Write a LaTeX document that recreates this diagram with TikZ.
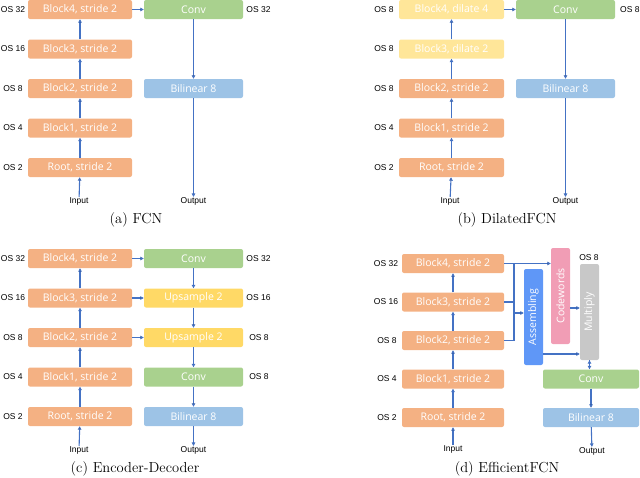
\documentclass[tikz,border=0pt]{standalone}
\usepackage{fontspec}
\newfontfamily\boxfont{Open Sans}
\newfontfamily\labfont{Liberation Sans}
\usetikzlibrary{arrows.meta, shapes, calc}

\definecolor{peach}{HTML}{F4B183}
\definecolor{paleyellow}{HTML}{FFE699}
\definecolor{upyellow}{HTML}{FFD966}
\definecolor{convgreen}{HTML}{A9D18E}
\definecolor{bilblue}{HTML}{9DC3E6}
\definecolor{asmblue}{HTML}{5F97F7}
\definecolor{cwpink}{HTML}{F19DB5}
\definecolor{mulgray}{HTML}{C8C8C8}
\definecolor{arrowblue}{HTML}{4472C4}

\tikzset{
	blk/.style={rounded corners=2pt, minimum height=19pt, inner sep=0pt, text=white,
		font=\boxfont\fontsize{10.5}{12}\selectfont},
	enc/.style={blk, fill=peach, minimum width=104pt},
	dec/.style={blk, minimum width=99pt},
	tall/.style={blk, rotate=90, minimum width=96pt},
	oslab/.style={font=\labfont\fontsize{8.5}{10}\selectfont, inner sep=0pt},
	subcap/.style={font=\fontsize{14.5}{16}\selectfont, inner sep=0pt},
	line/.style={draw=arrowblue, line width=1.1pt},
	arr/.style={line, -{Triangle[length=3.5pt, width=3.5pt]}},
}

\begin{document}
\begin{tikzpicture}[x=1pt, y=-1pt]
		\useasboundingbox (0,0) rectangle (640,477);
		% (a) FCN
		\node[enc] (a4) at (80,9.5) {Block4, stride 2};
		\node[enc] (a3) at (80,49) {Block3, stride 2};
		\node[enc] (a2) at (80,88.5) {Block2, stride 2};
		\node[enc] (a1) at (80,128) {Block1, stride 2};
		\node[enc] (a0) at (80,167.5) {Root, stride 2};
		\node[dec, fill=convgreen] (ac) at (193.5,9.5) {Conv};
		\node[dec, fill=bilblue] (ab) at (193.5,88.5) {Bilinear 8};
		\node[oslab] (la4) at (13,9.5) {OS 32};
		\node[oslab] (la3) at (13,49) {OS 16};
		\node[oslab] (la2) at (13,88.5) {OS 8};
		\node[oslab] (la1) at (13,128) {OS 4};
		\node[oslab] (la0) at (13,167.5) {OS 2};
		\node[oslab] (rac) at (258.5,9.5) {OS 32};
		\node[oslab] (ain) at (79,201) {Input};
		\node[oslab] (aout) at (193.5,201) {Output};
		\node[subcap] (capa) at (136,220) {(a) FCN};
		\draw[arr]
		(ain) edge (a0)
		(a0) edge (a1)
		(a1) edge (a2)
		(a2) edge (a3)
		(a3) edge (a4)
		(a4) edge (ac)
		(ac) edge (ab)
		(ab) edge (aout)
		;
		% (b) DilatedFCN
		\node[enc, minimum width=105pt, fill=paleyellow] (b4) at (451.5,9.5) {Block4, dilate 4};
		\node[enc, minimum width=105pt, fill=paleyellow] (b3) at (451.5,49) {Block3, dilate 2};
		\node[enc, minimum width=105pt] (b2) at (451.5,88.5) {Block2, stride 2};
		\node[enc, minimum width=105pt] (b1) at (451.5,128) {Block1, stride 2};
		\node[enc, minimum width=105pt] (b0) at (451.5,167.5) {Root, stride 2};
		\node[dec, fill=convgreen] (bc) at (565.5,9.5) {Conv};
		\node[dec, fill=bilblue] (bb) at (565.5,88.5) {Bilinear 8};
		\node[oslab] (lb4) at (384,9.5) {OS 8};
		\node[oslab] (lb3) at (384,49) {OS 8};
		\node[oslab] (lb2) at (384,88.5) {OS 8};
		\node[oslab] (lb1) at (384,128) {OS 4};
		\node[oslab] (lb0) at (384,167.5) {OS 2};
		\node[oslab, anchor=west] (rbc) at (620,9.5) {OS 8};
		\node[oslab] (bin) at (450,201) {Input};
		\node[oslab] (bout) at (565.5,201) {Output};
		\node[subcap] (capb) at (507,220) {(b) DilatedFCN};
		\draw[arr]
		(bin) edge (b0)
		(b0) edge (b1)
		(b1) edge (b2)
		(b2) edge (b3)
		(b3) edge (b4)
		(b4) edge (bc)
		(bc) edge (bb)
		(bb) edge (bout)
		;
		% (c) Encoder-Decoder
		\node[enc] (c4) at (80,258.5) {Block4, stride 2};
		\node[enc] (c3) at (80,298) {Block3, stride 2};
		\node[enc] (c2) at (80,337.5) {Block2, stride 2};
		\node[enc] (c1) at (80,377) {Block1, stride 2};
		\node[enc] (c0) at (80,416.5) {Root, stride 2};
		\node[dec, fill=convgreen] (cc1) at (193.5,258.5) {Conv};
		\node[dec, fill=upyellow] (cu1) at (193.5,298) {Upsample 2};
		\node[dec, fill=upyellow] (cu2) at (193.5,337.5) {Upsample 2};
		\node[dec, fill=convgreen] (cc2) at (193.5,377) {Conv};
		\node[dec, fill=bilblue] (cb) at (193.5,416.5) {Bilinear 8};
		\node[oslab] (lc4) at (13,258.5) {OS 32};
		\node[oslab] (lc3) at (13,298) {OS 16};
		\node[oslab] (lc2) at (13,337.5) {OS 8};
		\node[oslab] (lc1) at (13,377) {OS 4};
		\node[oslab] (lc0) at (13,416.5) {OS 2};
		\node[oslab] (rcc1) at (258.5,258.5) {OS 32};
		\node[oslab] (rcu1) at (258.5,298) {OS 16};
		\node[oslab] (rcu2) at (259,337.5) {OS 8};
		\node[oslab] (rcc2) at (259,377) {OS 8};
		\node[oslab] (cin) at (79,450) {Input};
		\node[oslab] (cout) at (193.5,450) {Output};
		\node[subcap] (capc) at (135,469) {(c) Encoder-Decoder};
		\draw[arr]
		(cin) edge (c0)
		(c0) edge (c1)
		(c1) edge (c2)
		(c2) edge (c3)
		(c3) edge (c4)
		(c4) edge (cc1)
		(c3) edge (cu1)
		(c2) edge (cu2)
		(cc1) edge (cu1)
		(cu1) edge (cu2)
		(cu2) edge (cc2)
		(cc2) edge (cb)
		(cb) edge (cout)
		;
		% (d) EfficientFCN
		\node[enc, minimum width=102pt] (d4) at (453,263.5) {Block4, stride 2};
		\node[enc, minimum width=102pt] (d3) at (453,302) {Block3, stride 2};
		\node[enc, minimum width=102pt] (d2) at (453,340.5) {Block2, stride 2};
		\node[enc, minimum width=102pt] (d1) at (453,379) {Block1, stride 2};
		\node[enc, minimum width=102pt] (d0) at (453,417.5) {Root, stride 2};
		\node[tall, fill=asmblue] (asm) at (533.5,317) {Assembling};
		\node[tall, fill=cwpink] (cw) at (560.5,296) {Codewords};
		\node[tall, fill=mulgray] (mul) at (589.5,312) {Multiply};
		\node[dec, minimum width=96pt, fill=convgreen] (dc) at (591,379) {Conv};
		\node[dec, minimum width=96pt, fill=bilblue] (db) at (591,417.5) {Bilinear 8};
		\node[oslab] (ld4) at (386,263.5) {OS 32};
		\node[oslab] (ld3) at (386,302) {OS 16};
		\node[oslab] (ld2) at (387,340.5) {OS 8};
		\node[oslab] (ld1) at (387,379) {OS 4};
		\node[oslab] (ld0) at (387,417.5) {OS 2};
		\node[oslab] (rmul) at (589,258) {OS 8};
		\node[oslab] (din) at (453,449) {Input};
		\node[oslab] (dout) at (592,451) {Output};
		\node[subcap] (capd) at (507,469) {(d) EfficientFCN};
		\coordinate (bus) at (514,263.5);
		\coordinate (tosm) at (514,313);
		\coordinate (cwmul) at (570,308);
		\coordinate (asmmul) at (543,354);
		\draw[line] (d3.east) -- (bus |- d3.east);
		\draw[line] (d2.east) -- (bus |- d2.east) -- (bus);
		\draw[arr]
		(din) edge (d0)
		(d0) edge (d1)
		(d1) edge (d2)
		(d2) edge (d3)
		(d3) edge (d4)
		(d4.east) edge (d4.east -| cw.north)
		(tosm) edge (tosm -| asm.north)
		(cwmul) edge (cwmul -| mul.north)
		(asmmul) edge (asmmul -| mul.north)
		(mul.west) edge (mul.west |- dc.north)
		(dc) edge (db)
		(db) edge (dout)
		;
\end{tikzpicture}
\end{document}
